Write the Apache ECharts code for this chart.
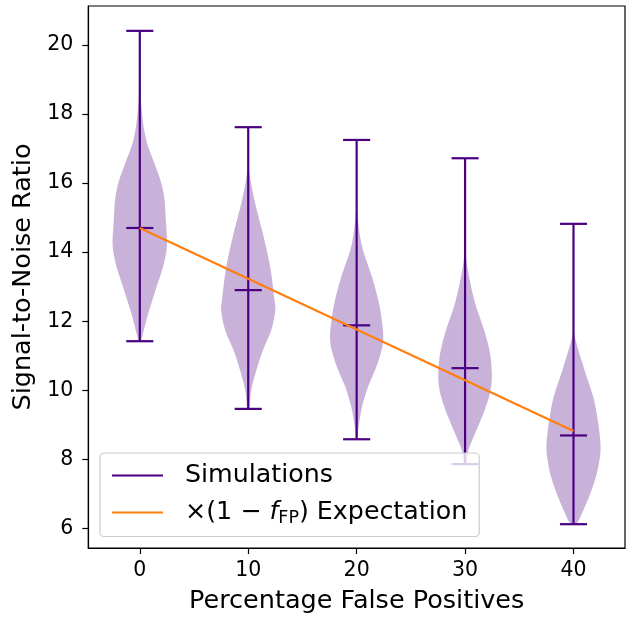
<!DOCTYPE html>
<html>
<head>
<meta charset="utf-8">
<script src="https://cdn.jsdelivr.net/npm/echarts@6/dist/echarts.min.js"></script>
<style>html,body{margin:0;padding:0;background:#fff}#c{width:640px;height:619px}</style>
</head>
<body>
<div id="c"></div>
<script>
// ---- data ----
const positions = [0, 10, 20, 30, 40];
const xTicks = [0, 10, 20, 30, 40];
const yTicks = [6, 8, 10, 12, 14, 16, 18, 20];
const snrMin = [11.42, 9.46, 8.58, 7.86, 6.12];
const snrMax = [20.41, 17.62, 17.25, 16.72, 14.82];
const snrMedian = [14.70, 12.90, 11.88, 10.64, 8.69];
const expectation = [14.70, 13.23, 11.76, 10.29, 8.82];
// violin density profiles: [SNR, relative width]
const violin0 = [[11.42,0.03],[11.65,0.12],[12.22,0.31],[13.0,0.62],[13.58,0.86],[14.16,1.0],[14.93,0.96],[15.6,0.9],[16.09,0.76],[16.57,0.54],[17.05,0.31],[17.54,0.16],[18.2,0.06],[18.6,0.03],[19.3,0.01],[20.41,0.0]];
const violin10 = [[9.46,0.04],[9.52,0.05],[10.0,0.11],[10.58,0.3],[11.16,0.54],[11.74,0.85],[12.32,1.0],[12.61,0.97],[13.58,0.81],[14.54,0.54],[15.5,0.23],[16.38,0.03],[17.0,0.01],[17.62,0.0]];
const violin20 = [[8.58,0.03],[8.94,0.07],[9.52,0.2],[10.1,0.42],[10.68,0.73],[11.26,0.95],[11.65,0.98],[12.42,0.85],[13.2,0.6],[14.16,0.2],[15.13,0.03],[16.0,0.01],[17.25,0.0]];
const violin30 = [[7.86,0.05],[8.27,0.12],[8.75,0.37],[9.33,0.68],[9.92,0.92],[10.39,0.99],[11.07,0.92],[11.75,0.7],[12.52,0.37],[13.49,0.1],[13.97,0.03],[14.5,0.01],[16.72,0.0]];
const violin40 = [[6.12,0.1],[6.43,0.31],[7.01,0.62],[7.59,0.86],[8.27,1.0],[8.94,0.93],[9.72,0.76],[10.68,0.37],[11.65,0.03],[12.5,0.01],[14.82,0.0]];
const profiles = [violin0, violin10, violin20, violin30, violin40];
const seriesNames = ['Simulations', '×(1 − f_FP) Expectation'];

// ---- chart ----
const FONT = 'DejaVu Sans';
const VIOLET = '#4B0082';
const HALF = 2.5;   // violin half width (x units)
const CAP = 1.25;   // cap half width (x units)

const chart = echarts.init(document.getElementById('c'), null, {renderer: 'canvas'});

function renderViolin(params, api) {
  const i = api.value(4);
  const x = api.value(0);
  const prof = profiles[i];
  const left = prof.map(p => api.coord([x - p[1] * HALF, p[0]]));
  const right = prof.slice().reverse().map(p => api.coord([x + p[1] * HALF, p[0]]));
  const lo = api.value(1), med = api.value(2), hi = api.value(3);
  const seg = (y) => {
    const a = api.coord([x - CAP, y]), b = api.coord([x + CAP, y]);
    return {type: 'line', shape: {x1: a[0], y1: a[1], x2: b[0], y2: b[1]}, style: {stroke: VIOLET, lineWidth: 2.2}, z2: 3};
  };
  const s0 = api.coord([x, lo]), s1 = api.coord([x, hi]);
  return {
    type: 'group',
    children: [
      {type: 'polygon', shape: {points: left.concat(right), smooth: 0.3}, style: {fill: 'rgba(75,0,130,0.3)', stroke: null}, z2: 1},
      {type: 'line', shape: {x1: s0[0], y1: s0[1], x2: s1[0], y2: s1[1]}, style: {stroke: VIOLET, lineWidth: 2.2}, z2: 2},
      seg(lo), seg(med), seg(hi)
    ]
  };
}

const option = {
  animation: false,
  backgroundColor: '#fff',
  textStyle: {fontFamily: FONT},
  grid: {left: 88.3, right: 15, top: 6, bottom: 71, show: true, borderColor: '#000', borderWidth: 1.2, backgroundColor: 'transparent', outerBoundsMode: 'none'},
  xAxis: {
    type: 'value', min: -4.75, max: 44.75,
    axisLine: {show: true, onZero: false, lineStyle: {color: '#000', width: 1.2}},
    axisTick: {show: true, length: 6, lineStyle: {color: '#000', width: 1.2}, customValues: xTicks},
    axisLabel: {fontSize: 20.5, color: '#000', margin: 12, fontFamily: FONT, customValues: xTicks},
    splitLine: {show: false},
    name: 'Percentage False Positives', nameLocation: 'middle', nameGap: 40,
    nameTextStyle: {fontSize: 25.5, color: '#000', fontFamily: FONT}
  },
  yAxis: {
    type: 'value', min: 5.43, max: 21.13,
    axisLine: {show: true, onZero: false, lineStyle: {color: '#000', width: 1.2}},
    axisTick: {show: true, length: 6, lineStyle: {color: '#000', width: 1.2}, customValues: yTicks},
    axisLabel: {fontSize: 20.5, color: '#000', margin: 15, fontFamily: FONT, customValues: yTicks, padding: [7, 0, 0, 0]},
    splitLine: {show: false},
    name: 'Signal-to-Noise Ratio', nameLocation: 'middle', nameGap: 47,
    nameTextStyle: {fontSize: 25.5, color: '#000', fontFamily: FONT}
  },
  legend: {
    left: 100, top: 453, orient: 'vertical', z: 10,
    padding: [10, 12, 9, 12],
    itemGap: 12, itemWidth: 51, itemHeight: 2.2,
    borderColor: '#cccccc', borderWidth: 1.2, borderRadius: 4,
    backgroundColor: 'rgba(255,255,255,0.8)',
    data: [
      {name: seriesNames[0], icon: 'rect', itemStyle: {color: VIOLET}},
      {name: seriesNames[1], icon: 'rect', itemStyle: {color: '#ff7f0e'}}
    ],
    formatter: function (name) {
      if (name === seriesNames[0]) return '{g|}{t|Simulations}';
      return '{g|}{t|×(1 − }{i|f}{s|FP}{t|) Expectation}';
    },
    textStyle: {
      fontSize: 25.3, color: '#000', fontFamily: FONT,
      rich: {
        g: {width: 17, lineHeight: 30},
        t: {fontSize: 25.3, fontFamily: FONT, color: '#000', lineHeight: 30, verticalAlign: 'middle'},
        i: {fontSize: 25.3, fontFamily: FONT, fontStyle: 'italic', color: '#000', lineHeight: 30, verticalAlign: 'middle'},
        s: {fontSize: 17.5, fontFamily: FONT, color: '#000', lineHeight: 17.5, verticalAlign: 'bottom'}
      }
    }
  },
  series: [
    {
      name: seriesNames[0], type: 'custom', z: 3,
      itemStyle: {color: VIOLET},
      renderItem: renderViolin,
      encode: {x: 0, y: [1, 2, 3]},
      data: positions.map((x, i) => [x, snrMin[i], snrMedian[i], snrMax[i], i])
    },
    {
      name: seriesNames[1], type: 'line', z: 5, symbol: 'none',
      lineStyle: {color: '#ff7f0e', width: 2.2},
      itemStyle: {color: '#ff7f0e'},
      data: positions.map((x, i) => [x, expectation[i]])
    }
  ]
};
chart.setOption(option);
</script>
</body>
</html>
